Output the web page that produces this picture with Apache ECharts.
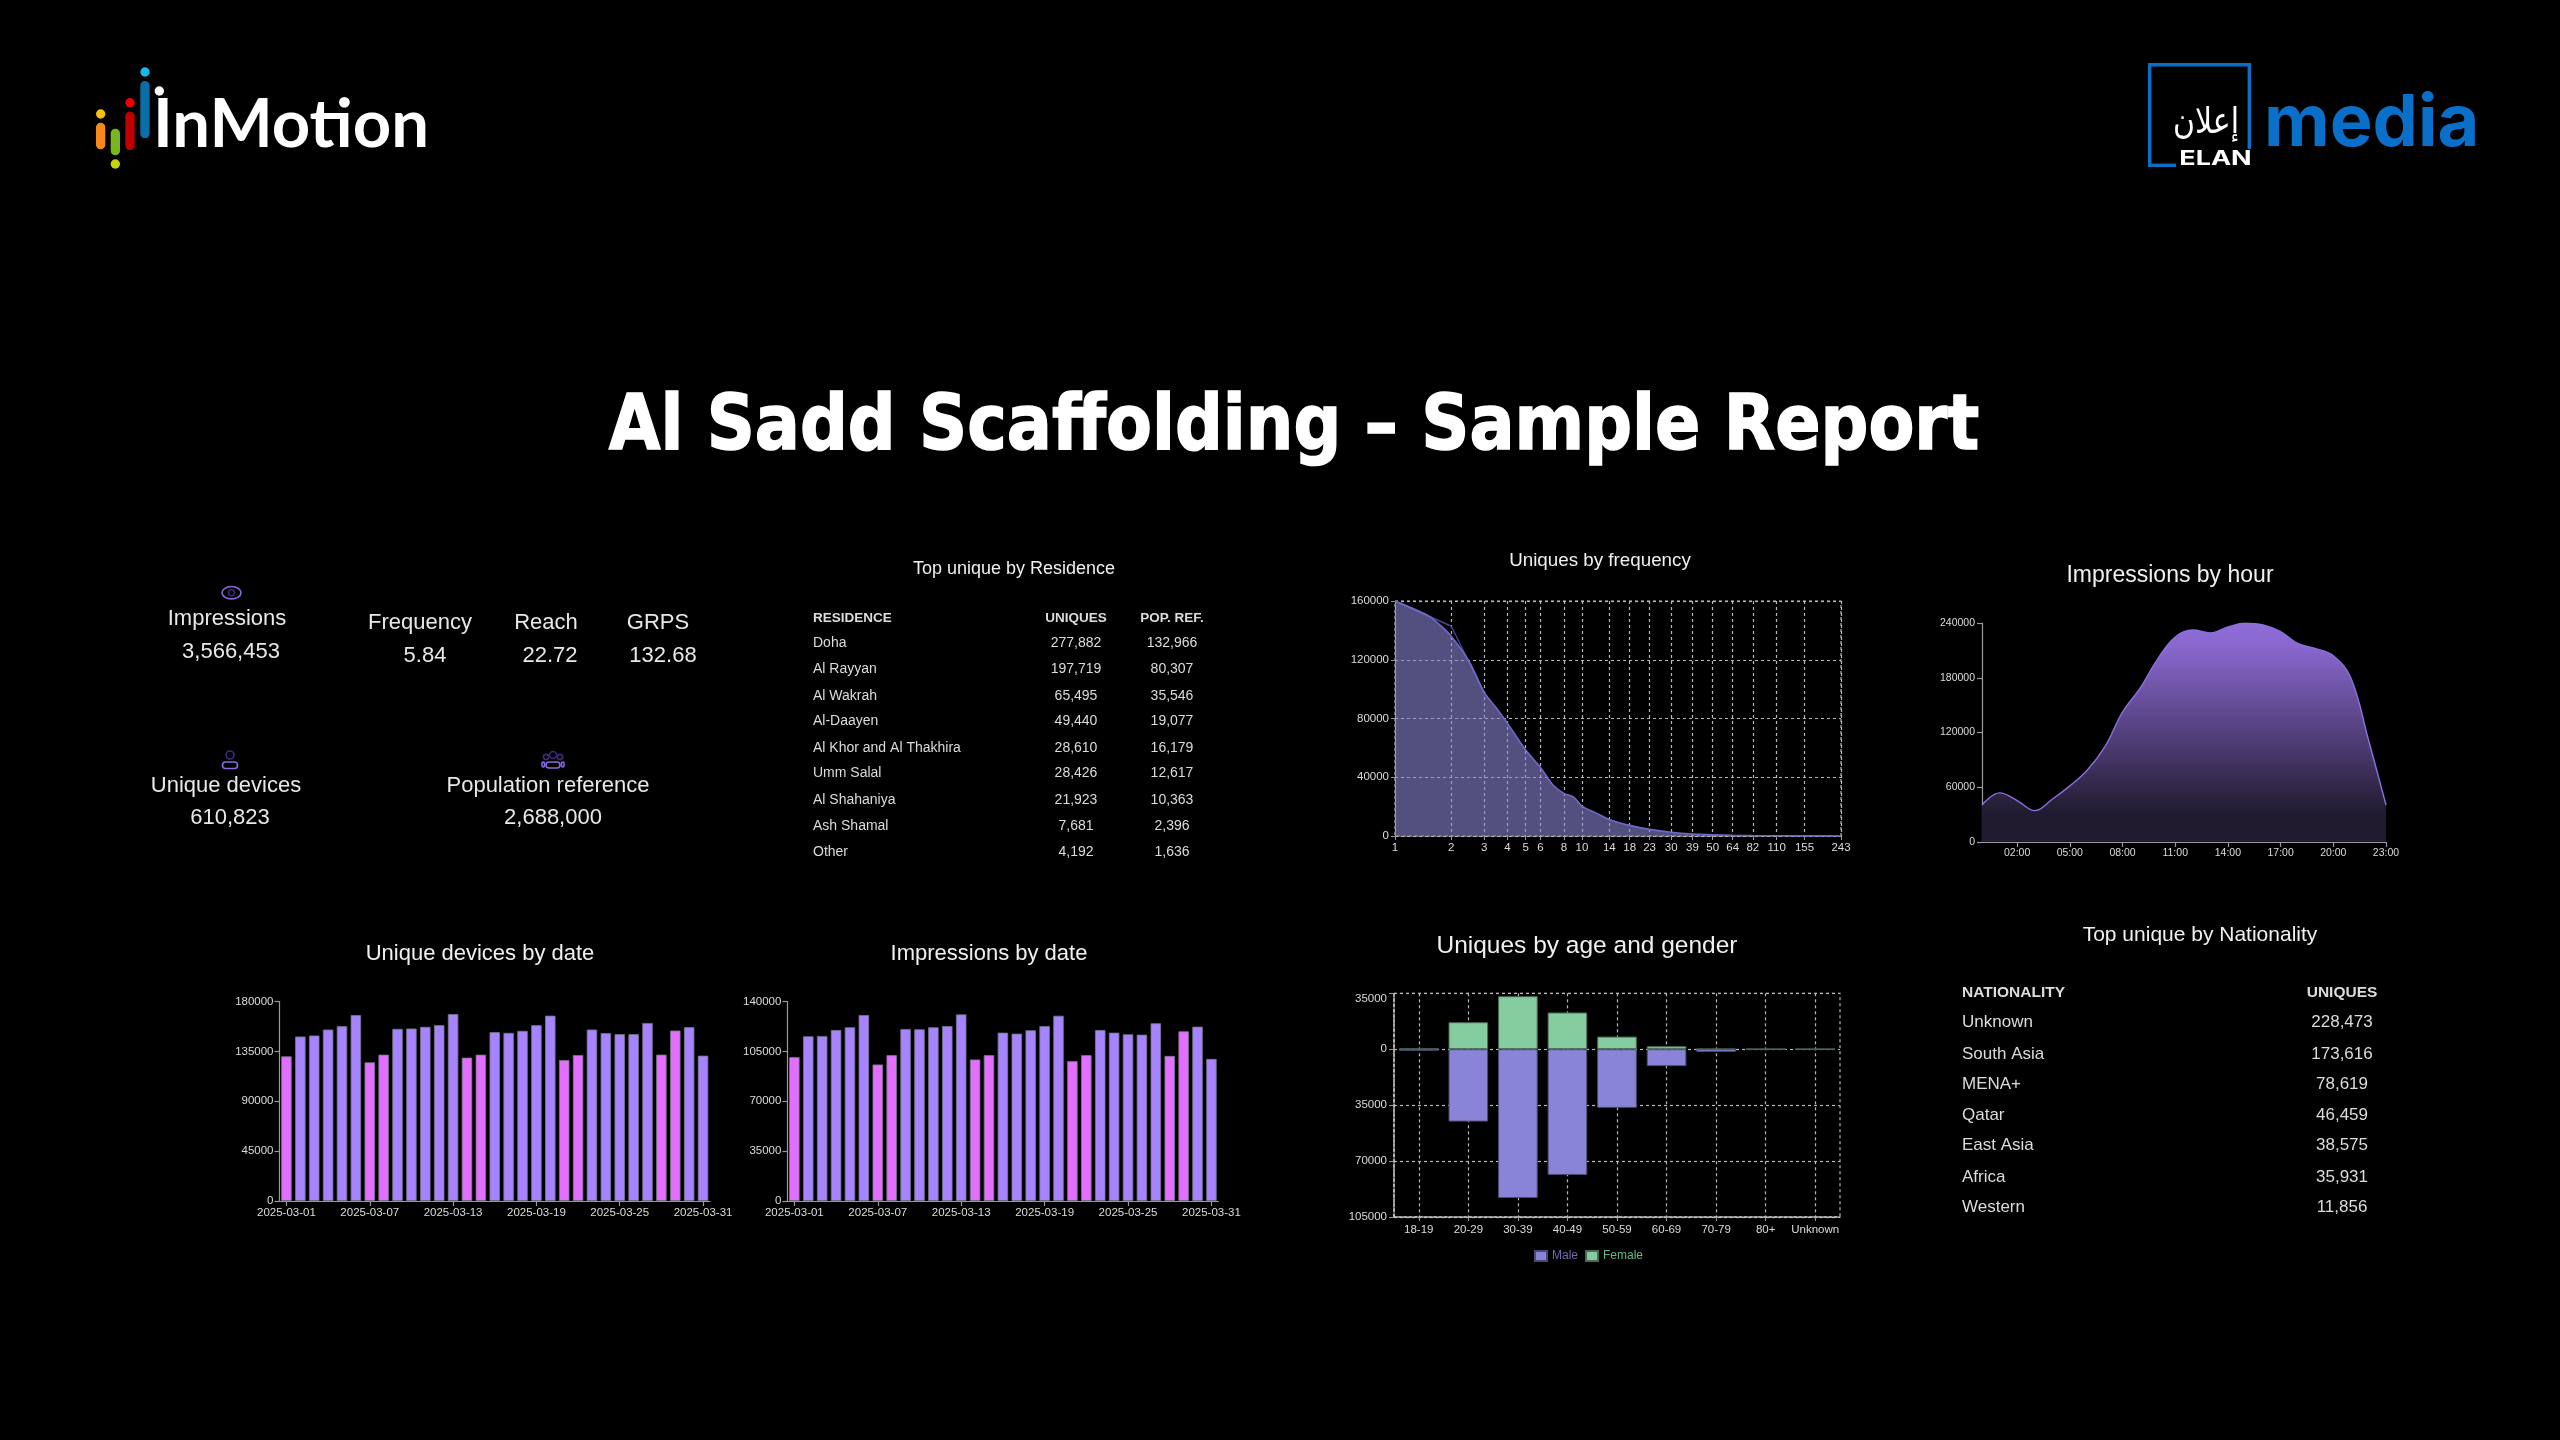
<!DOCTYPE html>
<html><head><meta charset="utf-8">
<style>html,body{margin:0;padding:0;background:#000}#c{width:2560px;height:1440px}</style>
<script src="https://cdn.jsdelivr.net/npm/echarts@6/dist/echarts.min.js"></script>
</head><body><div id="c"></div>
<script>
const reportTitle = 'Al Sadd Scaffolding – Sample Report';
const dates = ['2025-03-01','2025-03-02','2025-03-03','2025-03-04','2025-03-05','2025-03-06','2025-03-07','2025-03-08','2025-03-09','2025-03-10','2025-03-11','2025-03-12','2025-03-13','2025-03-14','2025-03-15','2025-03-16','2025-03-17','2025-03-18','2025-03-19','2025-03-20','2025-03-21','2025-03-22','2025-03-23','2025-03-24','2025-03-25','2025-03-26','2025-03-27','2025-03-28','2025-03-29','2025-03-30','2025-03-31'];
const weekendDates = ['2025-03-01','2025-03-07','2025-03-08','2025-03-14','2025-03-15','2025-03-21','2025-03-22','2025-03-28','2025-03-29'];
const devicesByDate = [130500,148400,149300,154700,157700,167800,125100,132000,155300,155600,157100,158600,168700,129300,132000,152300,151700,153500,158600,167200,127200,131700,154700,151400,150500,150500,160600,132000,153800,156800,131100];
const impressionsByDate = [100900,115600,115800,120000,121900,130500,95800,102300,120700,120500,121900,122800,130900,99300,102300,118100,117400,119800,122800,130000,98100,102300,120000,118100,117000,116700,124700,101800,119100,122300,99700];
const freqTicks = [1,2,3,4,5,6,8,10,14,18,23,30,39,50,64,82,110,155,243];
const freqX = [1,1.5,1.75,2,2.5,3,3.5,4,5,6,7,8,9,10,12,14,18,23,30,39,50,64,82,110,155,243];
const freqY = [160000,150200,143400,136000,118500,97700,86800,76600,58500,46700,34700,29000,26700,20400,15400,11300,7250,4500,2500,1360,900,450,230,150,80,30];
const freqRawX = [1,2,3];
const freqRawY = [160000,142800,97700];
const hours = ['00:00','01:00','02:00','03:00','04:00','05:00','06:00','07:00','08:00','09:00','10:00','11:00','12:00','13:00','14:00','15:00','16:00','17:00','18:00','19:00','20:00','21:00','22:00','23:00'];
const impressionsByHour = [40600,53800,45400,34400,46800,61500,79000,104600,142300,168700,200500,224700,232300,229100,235600,239700,237800,230500,217300,211900,204200,179700,112000,40600];
const ageGroups = ['18-19','20-29','30-39','40-49','50-59','60-69','70-79','80+','Unknown'];
const maleByAge = [-1000,-45300,-93100,-78700,-36700,-10600,-1700,0,0];
const femaleByAge = [400,16900,33200,23000,7900,1900,200,0,0];
const residenceNames = ['Doha','Al Rayyan','Al Wakrah','Al-Daayen','Al Khor and Al Thakhira','Umm Salal','Al Shahaniya','Ash Shamal','Other'];
const residenceUniques = ['277,882','197,719','65,495','49,440','28,610','28,426','21,923','7,681','4,192'];
const residencePop = ['132,966','80,307','35,546','19,077','16,179','12,617','10,363','2,396','1,636'];
const nationalityNames = ['Unknown','South Asia','MENA+','Qatar','East Asia','Africa','Western'];
const nationalityUniques = ['228,473','173,616','78,619','46,459','38,575','35,931','11,856'];

const FONT = '"Liberation Sans", Arial, sans-serif';
const AXIS = '#9a9a9a', LABEL = '#dcdcdc', PURPLE = '#a684ff', PINK = '#e26fff';
const plain = v => String(v);

const chart = echarts.init(document.getElementById('c'), null, {renderer:'canvas', width:2560, height:1440});

const T = (text,x,y,size,opt) => {
  opt = opt || {};
  return {type:'text', x, y, scaleX:opt.scaleX||1, scaleY:opt.scaleY||1, silent:true, style:{text, font:`${opt.weight||'normal'} ${size}px ${opt.family||FONT}`, fill:opt.fill||'#e8e8e8', align:opt.align||'center', verticalAlign:opt.valign||'middle', stroke:opt.stroke, lineWidth:opt.lineWidth}};
};
const chartTitle = (text,x,y,size) => ({text, left:x, top:y, textAlign:'center', textVerticalAlign:'middle', padding:0, textStyle:{color:'#f0f0f0', fontFamily:FONT, fontWeight:'normal', fontSize:size}});

const axisLine = {show:true, lineStyle:{color:AXIS, width:1.2}};
const axisTick = {show:true, length:5, lineStyle:{color:AXIS, width:1.2}};
const dashed = {show:true, lineStyle:{color:'#b8b8b8', type:[3,3], width:1.2}};

function dateBars(name, idx, vals, max, step){
  return {
    x:{type:'category', gridIndex:idx, data:dates, axisLine, axisTick:Object.assign({alignWithLabel:true, interval:5},axisTick), axisLabel:{interval:5, color:LABEL, fontSize:11.5, fontFamily:FONT, margin:6, hideOverlap:false}},
    y:{type:'value', gridIndex:idx, min:0, max, interval:step, axisLine, axisTick, splitLine:{show:false}, axisLabel:{color:LABEL, fontSize:11.5, fontFamily:FONT, margin:6, formatter:plain}},
    s:{name, type:'bar', xAxisIndex:idx, yAxisIndex:idx, barCategoryGap:'25%', data:vals.map((v,i)=>({value:v, itemStyle:{color:weekendDates.includes(dates[i])?PINK:PURPLE, borderColor:'#77778a', borderWidth:0.8}})), animation:false}
  };
}
const a = dateBars('Unique devices', 0, devicesByDate, 180000, 45000);
const b = dateBars('Impressions', 1, impressionsByDate, 140000, 35000);

const rows = [];
function table(headers, columns, xs, aligns, headY, rowYs, headSize, rowSize){
  headers.forEach((h,c)=>rows.push(T(h, xs[c], headY, headSize, {weight:'bold', align:aligns[c], fill:'#dcdcdc'})));
  columns.forEach((col,c)=>col.forEach((v,r)=>rows.push(T(v, xs[c], rowYs[r], rowSize, {align:aligns[c], fill:'#dcdcdc'}))));
}
table(['RESIDENCE','UNIQUES','POP. REF.'], [residenceNames,residenceUniques,residencePop], [813,1076,1172], ['left','center','center'], 618, [643,669.5,696,721.5,748,773.5,800,826.5,852], 13.5, 14);
table(['NATIONALITY','UNIQUES'], [nationalityNames,nationalityUniques], [1962,2342], ['left','center'], 992.5, [1022,1054,1084,1115,1145,1177,1207], 15.5, 17);

const ICON = '#8b68e0', ICOND = '#3b2a78';
const stroke = (type,shape,color,w) => ({type, shape, silent:true, style:{fill:'transparent', stroke:color||ICON, lineWidth:w||1.6}});
const fillS = (type,shape,color) => ({type, shape, silent:true, style:{fill:color}});

const graphics = [
  T(reportTitle, 1294, 429, 76, {weight:'bold', family:'"DejaVu Sans", sans-serif', fill:'#fff', scaleX:0.88, stroke:'#fff', lineWidth:1.5}),
  // KPIs
  T('Impressions',227,619,22), T('3,566,453',231,652,22),
  T('Frequency',420,623,22), T('5.84',425,656,22),
  T('Reach',546,623,22), T('22.72',550,656,22),
  T('GRPS',658,623,22), T('132.68',663,656,22),
  T('Unique devices',226,786,22), T('610,823',230,818,22),
  T('Population reference',548,786,22), T('2,688,000',553,818,22),
  stroke('ellipse',{cx:231.5,cy:592.7,rx:9.5,ry:6.2}), stroke('circle',{cx:231.5,cy:592.7,r:3},ICOND),
  stroke('circle',{cx:230,cy:755,r:4},ICOND), stroke('rect',{x:222.5,y:762,width:15,height:6.5,r:3}),
  stroke('circle',{cx:553,cy:755,r:3.5},ICOND), stroke('circle',{cx:546,cy:757,r:2.6},ICOND), stroke('circle',{cx:560,cy:757,r:2.6},ICOND),
  stroke('rect',{x:546,y:762,width:14,height:6,r:3}), stroke('rect',{x:542,y:762,width:2.5,height:5,r:1.2}), stroke('rect',{x:561.5,y:762,width:2.5,height:5,r:1.2}),
  // InMotion logo
  fillS('rect',{x:96,y:122.7,width:9.3,height:26.6,r:4.6},'#f5891a'), fillS('circle',{cx:100.7,cy:114,r:4.7},'#f9bf10'),
  fillS('rect',{x:110.7,y:128.7,width:9.3,height:26.6,r:4.6},'#7ab51d'), fillS('circle',{cx:115.3,cy:164,r:4.7},'#c5d400'),
  fillS('rect',{x:125.3,y:111.7,width:9.3,height:38.3,r:4.6},'#c00000'), fillS('circle',{cx:130,cy:102.7,r:4.7},'#ee0000'),
  fillS('rect',{x:140.3,y:81,width:9.3,height:57.3,r:4.6},'#0a6ea8'), fillS('circle',{cx:145,cy:72,r:4.7},'#1ab6ea'),
  fillS('circle',{cx:159.3,cy:91,r:4.7},'#fff'),
  T('InMotion',153,92,67,{weight:'bold',family:'Lato, "Open Sans", sans-serif',fill:'#fff',align:'left',valign:'top'}),
  // ELAN media logo
  fillS('rect',{x:2148,y:63,width:3.4,height:104},'#0a6fc9'),
  fillS('rect',{x:2148,y:63,width:103,height:3.4},'#0a6fc9'),
  fillS('rect',{x:2247.6,y:63,width:3.4,height:86},'#0a6fc9'),
  fillS('rect',{x:2148,y:163.6,width:28,height:3.4},'#0a6fc9'),
  T('ELAN',2215.5,159,20,{weight:'bold', fill:'#fff', family:'Inter, sans-serif', scaleX:1.35}),
  T('إعلان',2206,124,30,{fill:'#fff', family:'"DejaVu Sans", sans-serif', scaleY:1.2}),
  T('media',2264,88,72,{weight:'bold',family:'Inter, sans-serif',fill:'#0a6fc9',align:'left',valign:'top'}),
].concat(rows);

chart.setOption({
  backgroundColor:'#000',
  animation:false,
  title:[
    chartTitle('Unique devices by date',480,953.5,22),
    chartTitle('Impressions by date',989,953.5,22),
    chartTitle('Uniques by frequency',1600,560.5,18.8),
    chartTitle('Impressions by hour',2170,575.5,23),
    chartTitle('Uniques by age and gender',1587,946.5,24.5),
    chartTitle('Top unique by Residence',1014,569.5,18),
    chartTitle('Top unique by Nationality',2200,935.5,21),
  ],
  legend:{data:[{name:'Male',textStyle:{color:'#6f69b8'}},{name:'Female',textStyle:{color:'#62b888'}}], left:1529, top:1245, itemWidth:12, itemHeight:10, itemGap:7, textStyle:{fontFamily:FONT, fontSize:12}, icon:'rect'},
  grid:[
    {left:279.5, width:430.5, top:1001.5, height:199.5},
    {left:787.4, width:431, top:1001.5, height:199.5},
    {left:1395, width:446, top:601, height:235, show:true, borderColor:'#b8b8b8', borderWidth:1.2, borderType:[3,3]},
    {left:1982, width:404, top:623, height:219},
    {left:1394, width:446, top:993.3, height:223.7, show:true, borderColor:'#b8b8b8', borderWidth:1.2, borderType:[3,3]},
  ],
  xAxis:[
    a.x, b.x,
    {type:'log', logBase:2, gridIndex:2, min:1, max:243,
      axisLine:{show:true, lineStyle:{color:'#b8b8b8', type:[3,3], width:1.2}},
      axisTick:{show:true, length:4, customValues:freqTicks, lineStyle:{color:AXIS}},
      minorTick:{show:false}, minorSplitLine:{show:false},
      splitLine:dashed,
      axisLabel:{customValues:freqTicks, color:LABEL, fontSize:11.5, fontFamily:FONT, margin:6, hideOverlap:false, formatter:v=>String(Math.round(v))}},
    {type:'category', gridIndex:3, data:hours, boundaryGap:false, axisLine,
      axisTick:Object.assign({},axisTick,{interval:i=>i%3===2}),
      axisLabel:{interval:i=>i%3===2, color:LABEL, fontSize:10.5, fontFamily:FONT, margin:6}},
    {type:'category', gridIndex:4, data:ageGroups, axisLine:{show:true,onZero:false,lineStyle:{color:'#c8c8c8',type:[3,2],width:1.6}},
      axisTick:{show:true,alignWithLabel:true,length:4,lineStyle:{color:AXIS}},
      splitLine:{show:true,alignWithLabel:true,lineStyle:{color:'#b8b8b8',type:[3,3],width:1.2}},
      axisLabel:{interval:0,color:LABEL,fontSize:11.5,fontFamily:FONT,margin:7}},
  ],
  yAxis:[
    a.y, b.y,
    {type:'value', gridIndex:2, min:0, max:160000, interval:40000, axisLine:{show:true,lineStyle:{color:'#b8b8b8',type:[3,3]}}, axisTick:{show:true,length:4,lineStyle:{color:AXIS}}, splitLine:dashed, axisLabel:{color:LABEL,fontSize:11.5,fontFamily:FONT,margin:6,formatter:plain}},
    {type:'value', gridIndex:3, min:0, max:240000, interval:60000, axisLine, axisTick, splitLine:{show:false}, axisLabel:{color:LABEL,fontSize:10.5,fontFamily:FONT,margin:7,formatter:plain}},
    {type:'value', gridIndex:4, min:-105000, max:35000, interval:35000, axisLine:{show:true,lineStyle:{color:'#c8c8c8',type:[3,2],width:1.6}}, axisTick:{show:true,length:5,lineStyle:{color:AXIS}}, splitLine:dashed, axisLabel:{color:LABEL,fontSize:11.5,fontFamily:FONT,margin:7,verticalAlignMaxLabel:'top',formatter:v=>String(Math.abs(v))}},
  ],
  series:[
    a.s, b.s,
    {name:'Uniques', type:'line', xAxisIndex:2, yAxisIndex:2, z:3, smooth:0.25, symbol:'none', data:freqX.map((x,i)=>[x,freqY[i]]), lineStyle:{color:'#6f68cc',width:1.6}, areaStyle:{color:'#8a86d4',opacity:0.6}},
    {name:'Uniques raw', type:'line', xAxisIndex:2, yAxisIndex:2, z:2, symbol:'none', data:freqRawX.map((x,i)=>[x,freqRawY[i]]), lineStyle:{color:'#4a4690',width:1.4}},
    {name:'Impressions by hour', type:'line', xAxisIndex:3, yAxisIndex:3, smooth:0.4, symbol:'none', data:impressionsByHour, lineStyle:{color:'#8a70e0',width:1.4},
      areaStyle:{opacity:1,color:new echarts.graphic.LinearGradient(0,0,0,1,[{offset:0,color:'#8e6cd6'},{offset:0.1,color:'#8a68d0'},{offset:0.87,color:'#211b30'},{offset:1,color:'#211b30'}])}},
    {name:'Male', type:'bar', stack:'age', xAxisIndex:4, yAxisIndex:4, barWidth:'80%', z:4, data:maleByAge, itemStyle:{color:'#8a84d8',borderColor:'#4a4a70',borderWidth:1}},
    {name:'Female', type:'bar', stack:'age', xAxisIndex:4, yAxisIndex:4, barWidth:'80%', z:4, data:femaleByAge, itemStyle:{color:'#85cc9e',borderColor:'#4a6a58',borderWidth:1}},
  ],
  graphic:{elements:graphics}
});
</script></body></html>
